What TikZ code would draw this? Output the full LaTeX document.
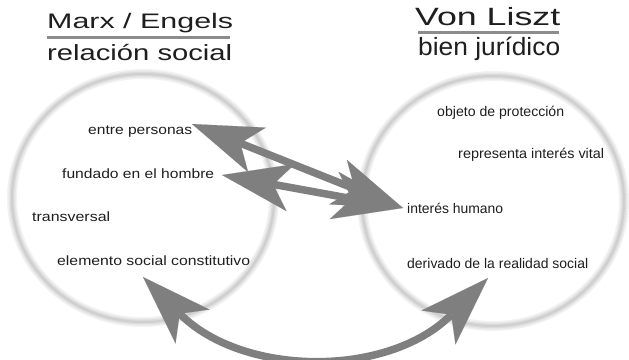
\documentclass[tikz,border=0pt]{standalone}
\usepackage{fontspec}
\usepackage{graphicx}
\setmainfont{Liberation Sans}
\usetikzlibrary{arrows.meta,calc}
\definecolor{arrowgray}{HTML}{7F7F7F}
\definecolor{rulegray}{HTML}{8C8C8C}
\definecolor{ink}{HTML}{1E1E1E}
\newcommand{\stretchto}[2]{\resizebox{#1}{\height}{#2}}
\begin{document}
\begin{tikzpicture}[x=1pt,y=-1pt,
  lbl/.style={inner sep=0pt, anchor=base west, text=ink, font=\fontsize{13.5}{15}\selectfont},
  rlbl/.style={lbl, font=\fontsize{14}{16}\selectfont},
  titlelbl/.style={inner sep=0pt, anchor=base west, text=ink},
  titlerule/.style={draw=rulegray, line width=2.7pt},
  bigarrow/.style={draw=arrowgray, line width=7.5pt,
    arrows={Stealth[length=70pt,width=48pt,inset=18pt,line width=0.1pt]-Stealth[length=70pt,width=48pt,inset=18pt,line width=0.1pt]}},
]
\useasboundingbox (0,0) rectangle (629,359);
% rings
\foreach \w/\c in {10/5,7/9,4.5/14,2/19}{
  \draw[line width=\w pt, black!\c] (143,198) ellipse [x radius=131, y radius=124];
  \draw[line width=\w pt, black!\c] (493,201) ellipse [x radius=131, y radius=125];
}
% titles
\node[titlelbl, font=\fontsize{21}{24}\selectfont] (t1) at (47,28) {\stretchto{186pt}{Marx / Engels}};
\node[titlelbl, font=\fontsize{22}{25}\selectfont] (t2) at (47,60) {\stretchto{185pt}{relación social}};
\draw[titlerule] (47,37.5) coordinate (r1a) -- (230,37.5) coordinate (r1b);
\node[titlelbl, font=\fontsize{25}{28}\selectfont] (t3) at (415,25) {\stretchto{145pt}{Von Liszt}};
\node[titlelbl, font=\fontsize{25}{28}\selectfont] (t4) at (418,55) {\stretchto{142pt}{bien jurídico}};
\draw[titlerule] (418,32.5) coordinate (r2a) -- (559,32.5) coordinate (r2b);
% left labels
\node[lbl] (n1) at (88,134) {\stretchto{104pt}{entre personas}};
\node[lbl] (n2) at (62,178) {\stretchto{152pt}{fundado en el hombre}};
\node[lbl] (n3) at (32,221) {\stretchto{78pt}{transversal}};
\node[lbl] (n4) at (57,265) {\stretchto{193pt}{elemento social constitutivo}};
% right labels
\node[rlbl] (n5) at (437,116) {\stretchto{127pt}{objeto de protección}};
\node[rlbl] (n6) at (458,158) {\stretchto{146pt}{representa interés vital}};
\node[rlbl] (n7) at (407,213) {\stretchto{96pt}{interés humano}};
\node[rlbl] (n8) at (407,268) {\stretchto{181pt}{derivado de la realidad social}};
% arrow end points
\coordinate (a1) at (192,124);
\coordinate (a2) at (222,175);
\coordinate (a3) at (403,208);
\coordinate (c1) at (143,277);
\coordinate (c2) at (488,278);
% arrows
\draw[bigarrow] (a1) -- (a3);
\draw[bigarrow] (a2) -- (a3);
\draw[bigarrow] (c1) .. controls (243,377) and (388,378) .. (c2);
\end{tikzpicture}
\end{document}
